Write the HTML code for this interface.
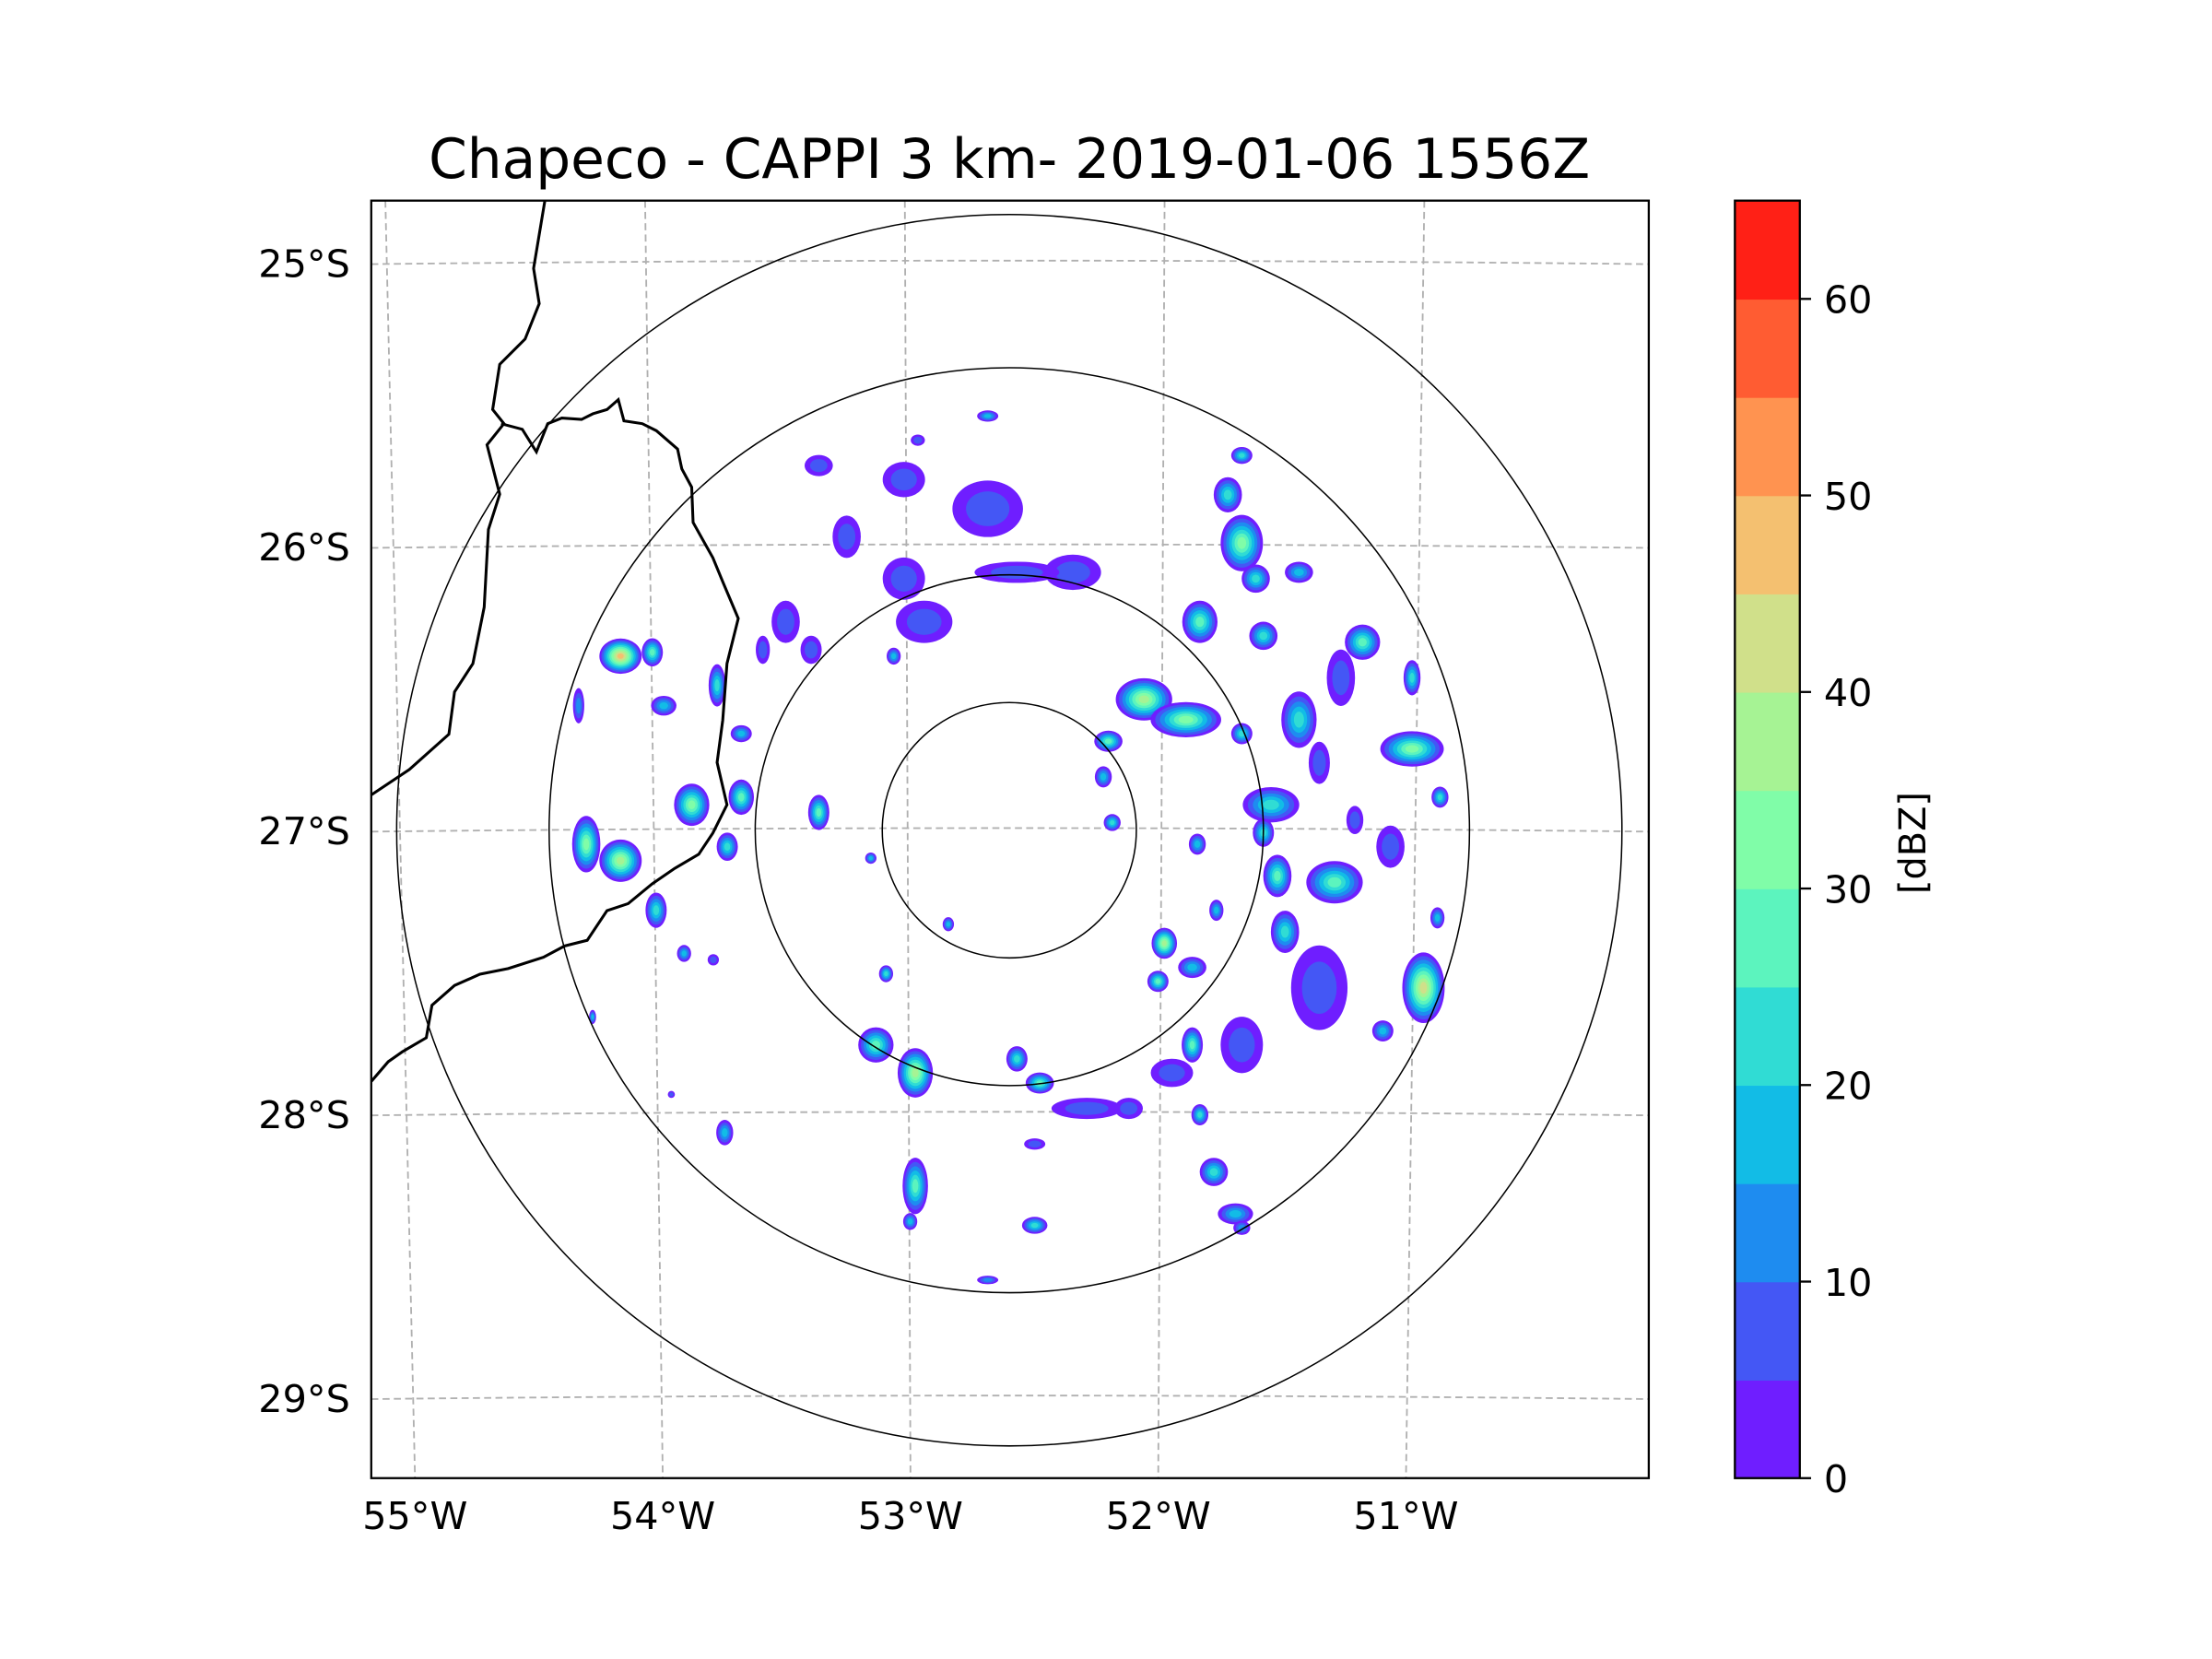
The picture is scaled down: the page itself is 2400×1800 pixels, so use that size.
<!DOCTYPE html>
<html><head><meta charset="utf-8"><style>
html,body{margin:0;padding:0;background:#fff;}
svg{display:block;font-family:"DejaVu Sans","Liberation Sans",sans-serif;}
</style></head><body>
<svg id="chart" width="2400" height="1800" viewBox="0 0 1567 1175" xmlns="http://www.w3.org/2000/svg">
<rect width="1567" height="1175" fill="#fff"/>
<text x="715" y="126" font-size="39" text-anchor="middle">Chapeco - CAPPI 3 km- 2019-01-06 1556Z</text>
<defs><clipPath id="clip"><rect x="263" y="142" width="905" height="905"/></clipPath></defs>
<g id="map" clip-path="url(#clip)"></g>
<rect x="263" y="142" width="905" height="905" fill="none" stroke="#000" stroke-width="1.5"/>
<g id="axes"></g>
<g id="cbar"></g>
<text x="1364" y="597" font-size="26" text-anchor="middle" transform="rotate(-90 1364 597)">[dBZ]</text>
</svg>
<script>
// data: radar echo cells (east km, north km from radar, width px, height px, max dBZ)
const cellX = [-306,-281,-333,-306,-278,-256,-339,-272,-250,-230,-211,-222,-211,-150,-91,-97,-105,-74,-74,-78,6,24,20,-17,-224,106,139,78,74,81,122,117,144,148,163,144,150,161,178,183,183,172,183,150,194,228,200,278,317,317,339,228,183,206,211,256,217,200,326,337,294,-67,-128,-83,-17,-72,-17,50,6,-150,-83,20,61,128,183,244,94,-176,-194,-156,-328,-266,-233,-109,-48,261,244,300,272];
const cellY = [137,140,-11,-24,-63,-97,98,98,20,114,26,-13,76,14,137,-113,-169,-191,-280,-308,-180,-199,-311,-354,-238,103,87,70,42,6,-89,-119,-108,-11,-63,-169,-224,-269,-302,-313,226,264,295,164,198,203,153,148,120,64,26,87,76,20,-36,-41,-80,-2,-124,-69,-158,164,231,276,326,307,253,203,203,287,198,-247,-219,-191,-169,-124,-219,164,142,142,-147,-208,-102,-22,-74,120,53,-13,8];
const cellW = [30,15,20,30,15,10,8,18,25,12,18,15,15,15,10,10,25,25,18,10,15,20,18,15,12,40,50,20,12,12,18,15,20,12,10,15,12,20,25,12,30,20,15,25,20,20,20,25,12,45,12,25,15,40,20,40,20,15,30,10,15,40,20,30,15,10,50,40,60,20,30,15,50,30,30,40,20,20,10,15,5,5,8,8,8,20,15,20,12];
const cellH = [25,20,40,30,25,12,25,14,30,30,25,20,12,25,12,12,25,35,40,12,18,15,12,6,18,30,25,15,15,12,22,15,15,15,15,25,15,20,15,10,40,25,12,30,20,15,20,25,25,25,15,40,15,25,30,30,30,20,50,15,15,30,30,25,8,8,40,25,15,15,30,8,15,20,40,60,15,30,20,20,10,5,8,8,10,40,30,30,20];
const cellMax = [50,30,35,40,25,20,15,20,35,25,30,25,20,30,20,25,30,40,30,20,25,30,25,15,20,40,35,30,20,25,40,30,20,20,20,30,25,25,20,15,35,25,25,30,25,20,25,30,25,35,25,25,25,25,30,30,25,25,45,20,20,10,10,10,20,10,8,8,8,8,8,10,8,8,8,10,10,10,10,10,20,10,10,20,20,10,10,10,10];
// colorbar
const levels = [0,5,10,15,20,25,30,35,40,45,50,55,60,65];
const cbTicks = [0,10,20,30,40,50,60];
const levelColors = ["#6f1eff","#4457f5","#1e8cf0","#12bce6","#30dcd4","#5cf4be","#80fda8","#a6f394","#d0e08a","#f4c070","#ff9350","#ff5c32","#ff2016"];
const latTicks = [25,26,27,28,29];
const lonTicks = [55,54,53,52,51];
const ringKm = [100,200,362,482];

const NS="http://www.w3.org/2000/svg";
const cx=715, cy=588, kmPx=0.9;
function xKm(v){return cx+v*kmPx;}
function yKm(v){return cy-v*kmPx;}
function cbY(v){return 1047-v*(905/65);}
function latY(lat){return 588+(lat-27)*201;}
function mk(tag,attrs,parent){const e=document.createElementNS(NS,tag);for(const k in attrs)e.setAttribute(k,attrs[k]);parent.appendChild(e);return e;}
const map=document.getElementById('map'), axes=document.getElementById('axes'), cbar=document.getElementById('cbar');

latTicks.forEach(lat=>{
  const y=latY(lat);
  const p=mk('path',{d:`M263 ${y+1} Q715 ${y-4} 1168 ${y+1}`,fill:'none',stroke:'#b0b0b0','stroke-width':1.2,'stroke-dasharray':'5 3'},map);
  
  
  const t=mk('text',{x:248,y:y+10,'font-size':27,'text-anchor':'end'},axes);
  t.textContent=lat+'°S';
  
  
});
lonTicks.forEach(lon=>{
  const xb=645+(53-lon)*175.5, xt=641+(53-lon)*184;
  const p=mk('line',{x1:xt,y1:142,x2:xb,y2:1047,stroke:'#b0b0b0','stroke-width':1.2,'stroke-dasharray':'5 3'},map);
  
  
  const t=mk('text',{x:xb,y:1083,'font-size':27,'text-anchor':'middle'},axes);
  t.textContent=lon+'°W';
  
  
});

for(let i=0;i<cellX.length;i++){
  const g=mk('g',{},map);
  
  
  const x=xKm(cellX[i]), y=yKm(cellY[i]);
  const n=Math.max(1,Math.ceil(cellMax[i]/5));
  for(let k=0;k<n;k++){
    const f=1-k/(n+0.6);
    mk('ellipse',{cx:x,cy:y,rx:cellW[i]/2*f,ry:cellH[i]/2*f,fill:levelColors[Math.min(k,12)]},g);
  }
}

ringKm.forEach((r,i)=>{
  const rr=[90,180,326,434][i];
  const c=mk('ellipse',{cx:cx,cy:cy,rx:rr,ry:rr*1.005,fill:'none',stroke:'#000','stroke-width':1},map);
  
  
});

const b1=mk('path',{d:'M386 142 L378 190 L382 215 L372 240 L354 258 L349 290 L357 300 L345 315 L354 350 L346 375 L343 430 L335 470 L322 490 L318 520 L290 545 L263 563',fill:'none',stroke:'#000','stroke-width':2},map);


const b2=mk('path',{d:'M355 300 L370 304 L380 320 L388 300 L398 296 L412 297 L420 293 L430 290 L438 283 L442 298 L455 300 L465 305 L480 318 L483 332 L490 345 L491 370 L505 395 L512 412 L523 438 L515 470 L512 510 L508 540 L515 570 L505 590 L495 605 L478 615 L462 626 L445 640 L430 645 L416 666 L400 670 L385 678 L360 686 L340 690 L322 698 L306 712 L302 735 L285 745 L275 752 L263 766',fill:'none',stroke:'#000','stroke-width':2},map);



for(let i=0;i<levelColors.length;i++){
  const r=mk('rect',{x:1229,y:cbY(levels[i+1]),width:46,height:cbY(levels[i])-cbY(levels[i+1])+0.5,fill:levelColors[i]},cbar);
  
  
}
mk('rect',{x:1229,y:142,width:46,height:905,fill:'none',stroke:'#000','stroke-width':1.5},cbar);
cbTicks.forEach(v=>{
  const y=cbY(v);
  mk('line',{x1:1275,y1:y,x2:1283,y2:y,stroke:'#000','stroke-width':1.5},cbar);
  const t=mk('text',{x:1292,y:y+10,'font-size':27},cbar);
  t.textContent=v;
  
  
});
</script>
</body></html>
